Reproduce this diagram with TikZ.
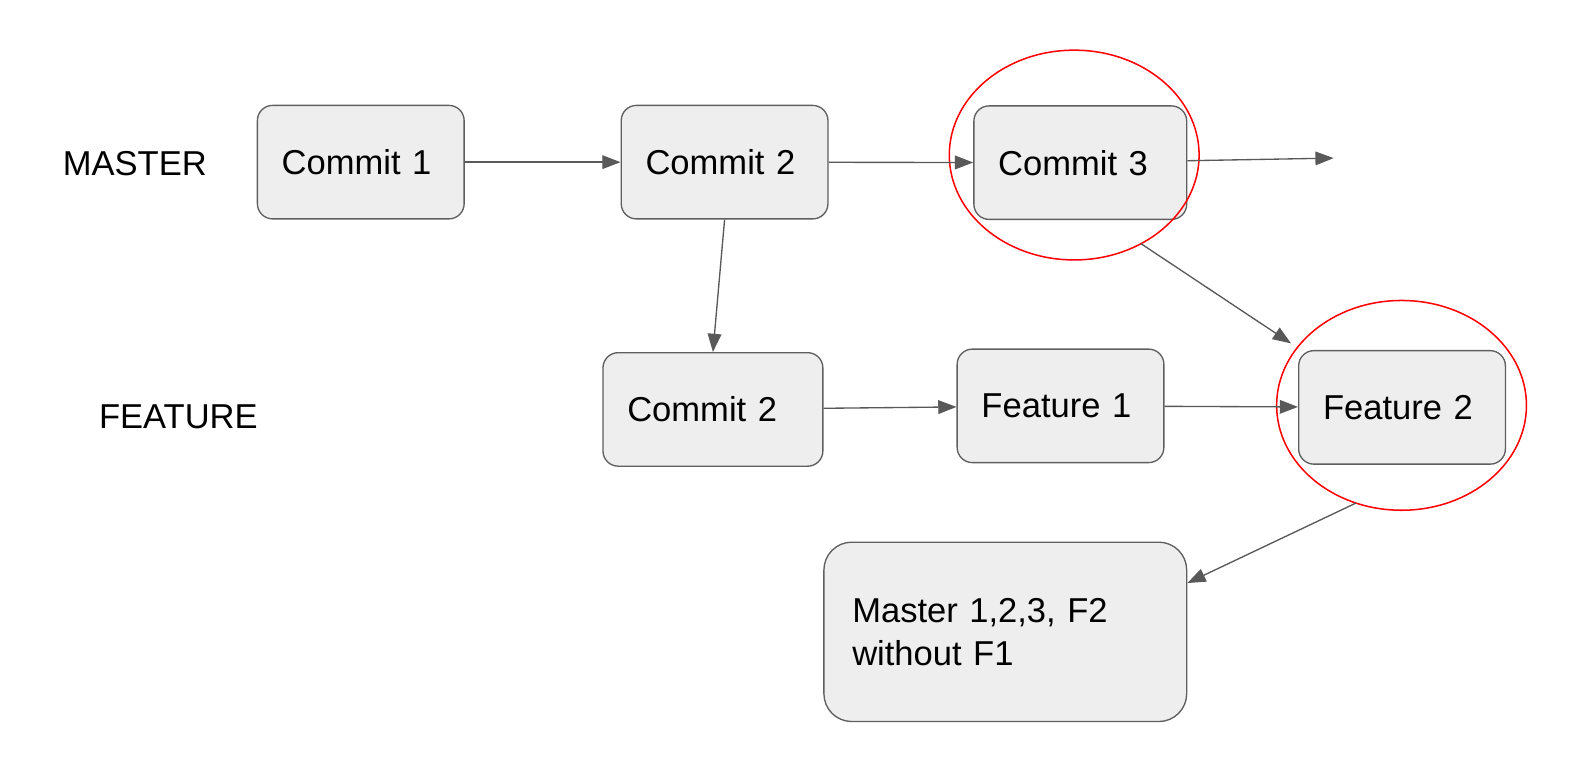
\documentclass[tikz,border=0pt]{standalone}
\usepackage{fontspec}
\setmainfont{Liberation Sans}
\usepackage{xcolor}
\usepackage{tikz}
\usetikzlibrary{shapes.geometric, arrows.meta}
\definecolor{boxFill}{HTML}{EEEEEE}
\definecolor{boxLine}{HTML}{5F5F5F}
\definecolor{arrowGrey}{HTML}{595959}
\definecolor{ringRed}{HTML}{FF0000}

\begin{document}
\begin{tikzpicture} [
    edge/.style={-{Triangle[length=0.36cm, width=0.27cm]}, line width=0.75pt, color=arrowGrey},
    commitBox/.style={rectangle, rounded corners=0.3cm, draw=boxLine, line width=0.75pt, fill=boxFill, align=left, text width=3.12cm, inner xsep=0.48cm, minimum height=2.24cm, font=\fontsize{19.4}{23.9}\selectfont},
    resultBox/.style={rectangle, rounded corners=0.55cm, draw=boxLine, line width=0.75pt, fill=boxFill, align=left, text width=6.04cm, inner xsep=0.56cm, minimum height=3.54cm, font=\fontsize{19.4}{23.9}\selectfont},
    branchLabel/.style={font=\fontsize{19.4}{23.9}\selectfont},
    ring/.style={ellipse, draw=ringRed, line width=0.85pt, inner sep=0pt, outer sep=0pt, minimum width=4.93cm, minimum height=4.14cm}
]

\useasboundingbox (0, 0) rectangle (31.36, -15.44);

\node[branchLabel] (master) at (2.66, -3.22) {MASTER};

\node[branchLabel] (feature) at (3.52, -8.22) {FEATURE};

\node[commitBox] (commit1) at (7.12, -3.20) {Commit 1};

\node[commitBox] (commit2) at (14.30, -3.20) {Commit 2};

\node[commitBox, text width=3.24cm] (commit3) at (21.32, -3.21) {Commit 3};

\node[ring] (ring3) at (21.20, -3.06) {};

\coordinate (next) at (26.32, -3.12);

\draw[edge] (commit1) -- (commit2);
\draw[edge] (commit2) -- (commit3);
\draw[edge] (commit3) -- (next);

\node[commitBox, text width=3.38cm] (fcommit2) at (14.07, -8.08) {Commit 2};

\node[commitBox] (feature1) at (20.93, -8.01) {Feature 1};

\node[commitBox] (feature2) at (27.67, -8.04) {Feature 2};

\node[ring] (ringf2) at (27.66, -8.00) {};

\draw[edge] (commit2.south) -- (fcommit2.north);
\draw[edge] (fcommit2) -- (feature1);
\draw[edge] (feature1) -- (feature2);
\draw[edge, shorten >=0.15cm] (ring3.-53) -- (ringf2.151);

\node[resultBox] (result) at (19.84, -12.47) {Master 1,2,3, F2\\without F1};

\draw[edge] (ringf2.-115) -- (result.15);

\end{tikzpicture}
\end{document}
